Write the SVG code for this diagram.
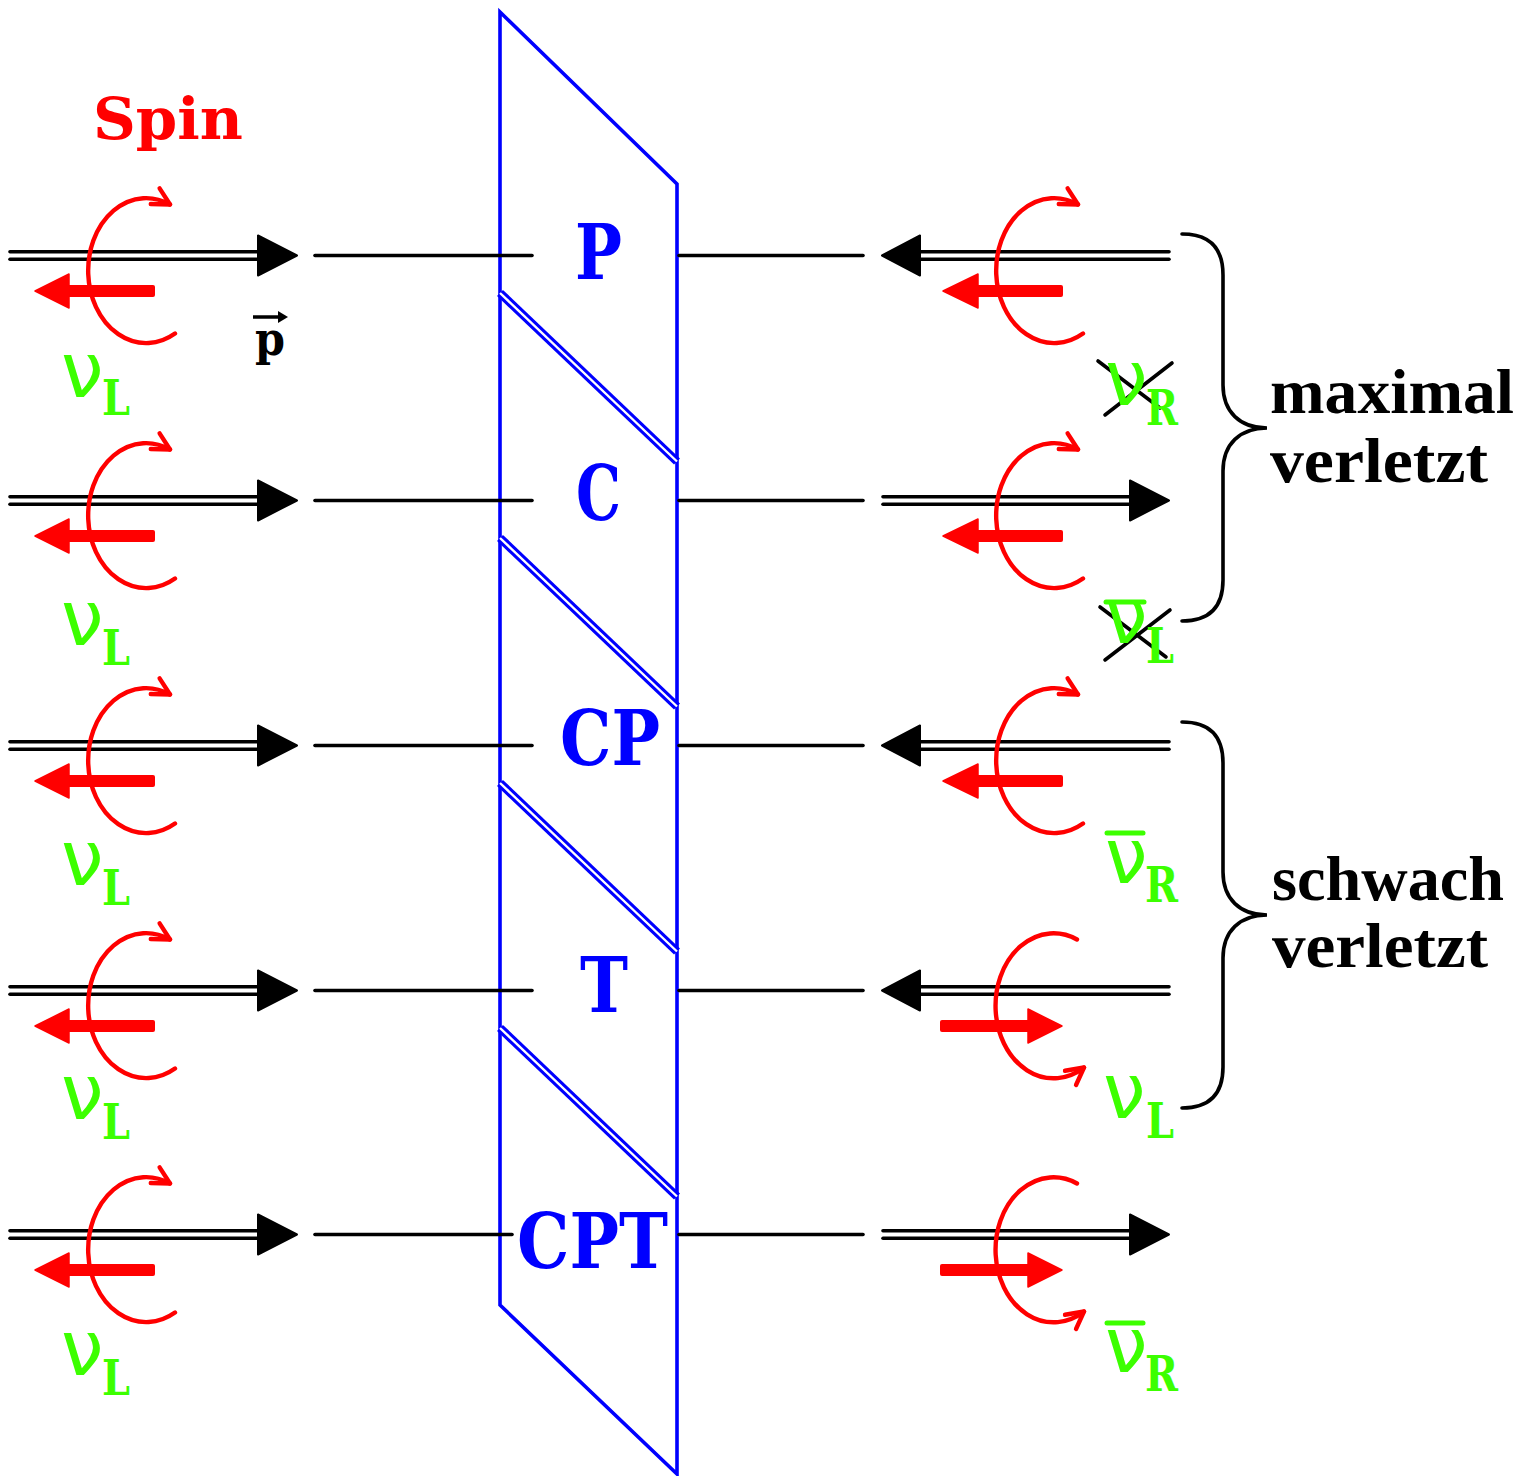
<svg xmlns="http://www.w3.org/2000/svg" width="1526" height="1476" viewBox="0 0 1526 1476">
<style>
.blk{stroke:#000;stroke-width:3.6;fill:none;stroke-linecap:round}
.head{fill:#000;stroke:#000;stroke-width:2;stroke-linejoin:round}
.arc{stroke:#f00;stroke-width:4.4;fill:none;stroke-linecap:round}
.rhead{fill:#f00;stroke:#f00;stroke-width:1.5;stroke-linejoin:round}
.edge{stroke:#00f;stroke-width:3.6;fill:none}
.dbl{stroke:#00f;stroke-width:8.6}
.gap{stroke:#fff;stroke-width:2.4}
.lbl{font-family:"DejaVu Serif","Liberation Serif",serif;font-weight:bold}
.nu{font-family:"DejaVu Sans","Liberation Sans",sans-serif;font-size:76px;fill:#3cff00}
.sub{font-family:"DejaVu Serif","Liberation Serif",serif;font-weight:bold;font-size:48px;fill:#3cff00}
.bar{stroke:#3cff00;stroke-width:5;stroke-linecap:round}
.cross{stroke:#000;stroke-width:3.6;stroke-linecap:round}
.big{font-family:"DejaVu Serif","Liberation Serif",serif;font-weight:bold;font-size:77px;fill:#00f}
.side{font-family:"Liberation Serif","DejaVu Serif",serif;font-weight:bold;font-size:64px;fill:#000}
</style>
<defs>
<marker id="chev" markerUnits="userSpaceOnUse" viewBox="-20 -12 24 24" markerWidth="24" markerHeight="24" refX="0" refY="0" orient="auto" overflow="visible">
<path d="M -17 -9 L 0 0 L -17 9" fill="none" stroke="#f00" stroke-width="4.4" stroke-linecap="round" stroke-linejoin="round"/>
</marker>
</defs>
<rect width="1526" height="1476" fill="#fff"/>

<g id="mirror">
<polygon class="edge" points="500,12 677,184 677,1474 500,1305"/>
<line class="dbl" x1="500" y1="293" x2="677" y2="461.5"/>
<line class="gap" x1="500" y1="293" x2="677" y2="461.5"/>
<line class="dbl" x1="500" y1="538" x2="677" y2="706.5"/>
<line class="gap" x1="500" y1="538" x2="677" y2="706.5"/>
<line class="dbl" x1="500" y1="783" x2="677" y2="951.5"/>
<line class="gap" x1="500" y1="783" x2="677" y2="951.5"/>
<line class="dbl" x1="500" y1="1028" x2="677" y2="1196.5"/>
<line class="gap" x1="500" y1="1028" x2="677" y2="1196.5"/>
</g>

<g id="connectors">
<line class="blk" x1="315" y1="255.5" x2="532" y2="255.5"/>
<line class="blk" x1="679" y1="255.5" x2="863" y2="255.5"/>
<line class="blk" x1="315" y1="500.5" x2="532" y2="500.5"/>
<line class="blk" x1="679" y1="500.5" x2="863" y2="500.5"/>
<line class="blk" x1="315" y1="745.5" x2="532" y2="745.5"/>
<line class="blk" x1="679" y1="745.5" x2="863" y2="745.5"/>
<line class="blk" x1="315" y1="990.5" x2="532" y2="990.5"/>
<line class="blk" x1="679" y1="990.5" x2="863" y2="990.5"/>
<line class="blk" x1="315" y1="1234.5" x2="512" y2="1234.5"/>
<line class="blk" x1="679" y1="1234.5" x2="863" y2="1234.5"/>
<path class="blk" d="M 1182 234 C 1210 234 1223 248 1223 275 L 1223 385 C 1223 412 1240 428 1267 428 C 1240 428 1223 444 1223 471 L 1223 580 C 1223 607 1210 621 1182 621"/>
<path class="blk" d="M 1182 722 C 1210 722 1223 736 1223 763 L 1223 872 C 1223 899 1240 915 1267 915 C 1240 915 1223 931 1223 958 L 1223 1067 C 1223 1094 1210 1108 1182 1108"/>
</g>

<g id="spin-title"><text class="lbl" x="93" y="139" font-size="58" fill="#f00" textLength="150" lengthAdjust="spacingAndGlyphs">Spin</text></g>

<g id="momentum">
<text class="lbl" x="255" y="355" font-size="46" fill="#000" textLength="30" lengthAdjust="spacingAndGlyphs">p</text>
<line x1="253" y1="317" x2="280" y2="317" stroke="#000" stroke-width="3.5"/>
<polygon points="288,317 278,311 278,323" fill="#000"/>
</g>

<!-- Left units -->
<g id="left-1" transform="translate(0,255.5)">
<line class="blk" x1="10" y1="-3.8" x2="262" y2="-3.8"/><line class="blk" x1="10" y1="3.8" x2="262" y2="3.8"/>
<polygon class="head" points="297,0 258,-20 258,20"/>
<path class="arc" d="M 175 78 A 58 72.5 0 1 1 170 -51" marker-end="url(#chev)"/>
<rect x="66" y="29.5" width="89" height="12" rx="2" fill="#f00"/><polygon class="rhead" points="35,35.5 69,18.5 69,52.5"/>
</g>
<g id="left-2" transform="translate(0,500.5)">
<line class="blk" x1="10" y1="-3.8" x2="262" y2="-3.8"/><line class="blk" x1="10" y1="3.8" x2="262" y2="3.8"/>
<polygon class="head" points="297,0 258,-20 258,20"/>
<path class="arc" d="M 175 78 A 58 72.5 0 1 1 170 -51" marker-end="url(#chev)"/>
<rect x="66" y="29.5" width="89" height="12" rx="2" fill="#f00"/><polygon class="rhead" points="35,35.5 69,18.5 69,52.5"/>
</g>
<g id="left-3" transform="translate(0,745.5)">
<line class="blk" x1="10" y1="-3.8" x2="262" y2="-3.8"/><line class="blk" x1="10" y1="3.8" x2="262" y2="3.8"/>
<polygon class="head" points="297,0 258,-20 258,20"/>
<path class="arc" d="M 175 78 A 58 72.5 0 1 1 170 -51" marker-end="url(#chev)"/>
<rect x="66" y="29.5" width="89" height="12" rx="2" fill="#f00"/><polygon class="rhead" points="35,35.5 69,18.5 69,52.5"/>
</g>
<g id="left-4" transform="translate(0,990.5)">
<line class="blk" x1="10" y1="-3.8" x2="262" y2="-3.8"/><line class="blk" x1="10" y1="3.8" x2="262" y2="3.8"/>
<polygon class="head" points="297,0 258,-20 258,20"/>
<path class="arc" d="M 175 78 A 58 72.5 0 1 1 170 -51" marker-end="url(#chev)"/>
<rect x="66" y="29.5" width="89" height="12" rx="2" fill="#f00"/><polygon class="rhead" points="35,35.5 69,18.5 69,52.5"/>
</g>
<g id="left-5" transform="translate(0,1234.5)">
<line class="blk" x1="10" y1="-3.8" x2="262" y2="-3.8"/><line class="blk" x1="10" y1="3.8" x2="262" y2="3.8"/>
<polygon class="head" points="297,0 258,-20 258,20"/>
<path class="arc" d="M 175 78 A 58 72.5 0 1 1 170 -51" marker-end="url(#chev)"/>
<rect x="66" y="29.5" width="89" height="12" rx="2" fill="#f00"/><polygon class="rhead" points="35,35.5 69,18.5 69,52.5"/>
</g>

<!-- Left labels -->
<g id="left-labels">
<text class="nu" x="61" y="397">ν</text><text class="sub" x="102" y="415" textLength="28" lengthAdjust="spacingAndGlyphs">L</text>
<text class="nu" x="61" y="645">ν</text><text class="sub" x="102" y="665" textLength="28" lengthAdjust="spacingAndGlyphs">L</text>
<text class="nu" x="61" y="885">ν</text><text class="sub" x="102" y="905" textLength="28" lengthAdjust="spacingAndGlyphs">L</text>
<text class="nu" x="61" y="1119">ν</text><text class="sub" x="102" y="1139" textLength="28" lengthAdjust="spacingAndGlyphs">L</text>
<text class="nu" x="61" y="1375">ν</text><text class="sub" x="102" y="1395" textLength="28" lengthAdjust="spacingAndGlyphs">L</text>
</g>

<!-- Mirror labels -->
<g id="op-P"><text class="big" x="575" y="279" textLength="47" lengthAdjust="spacingAndGlyphs">P</text></g>
<g id="op-C"><text class="big" x="576" y="520" textLength="45" lengthAdjust="spacingAndGlyphs">C</text></g>
<g id="op-CP"><text class="big" x="560" y="765" textLength="100" lengthAdjust="spacingAndGlyphs">CP</text></g>
<g id="op-T"><text class="big" x="580" y="1012" textLength="48" lengthAdjust="spacingAndGlyphs">T</text></g>
<g id="op-CPT"><text class="big" x="517" y="1268" textLength="151" lengthAdjust="spacingAndGlyphs">CPT</text></g>

<!-- Right units -->
<g id="right-1" transform="translate(0,255.5)">
<line class="blk" x1="918" y1="-3.8" x2="1169" y2="-3.8"/><line class="blk" x1="918" y1="3.8" x2="1169" y2="3.8"/>
<polygon class="head" points="882,0 920,-20 920,20"/>
<path class="arc" d="M 1083 78 A 58 72.5 0 1 1 1078 -51" marker-end="url(#chev)"/>
<rect x="974" y="29.5" width="89" height="12" rx="2" fill="#f00"/><polygon class="rhead" points="943,35.5 978,18.5 978,52.5"/>
</g>
<g id="right-2" transform="translate(0,500.5)">
<line class="blk" x1="883" y1="-3.8" x2="1132" y2="-3.8"/><line class="blk" x1="883" y1="3.8" x2="1132" y2="3.8"/>
<polygon class="head" points="1169,0 1130,-20 1130,20"/>
<path class="arc" d="M 1083 78 A 58 72.5 0 1 1 1078 -51" marker-end="url(#chev)"/>
<rect x="974" y="29.5" width="89" height="12" rx="2" fill="#f00"/><polygon class="rhead" points="943,35.5 978,18.5 978,52.5"/>
</g>
<g id="right-3" transform="translate(0,745.5)">
<line class="blk" x1="918" y1="-3.8" x2="1169" y2="-3.8"/><line class="blk" x1="918" y1="3.8" x2="1169" y2="3.8"/>
<polygon class="head" points="882,0 920,-20 920,20"/>
<path class="arc" d="M 1083 78 A 58 72.5 0 1 1 1078 -51" marker-end="url(#chev)"/>
<rect x="974" y="29.5" width="89" height="12" rx="2" fill="#f00"/><polygon class="rhead" points="943,35.5 978,18.5 978,52.5"/>
</g>
<g id="right-4" transform="translate(0,990.5)">
<line class="blk" x1="918" y1="-3.8" x2="1169" y2="-3.8"/><line class="blk" x1="918" y1="3.8" x2="1169" y2="3.8"/>
<polygon class="head" points="882,0 920,-20 920,20"/>
<path class="arc" d="M 1077 -51 A 58 72.5 0 1 0 1084 77" marker-end="url(#chev)"/>
<rect x="940" y="29.5" width="90" height="12" rx="2" fill="#f00"/><polygon class="rhead" points="1062,35.5 1028,18.5 1028,52.5"/>
</g>
<g id="right-5" transform="translate(0,1234.5)">
<line class="blk" x1="883" y1="-3.8" x2="1132" y2="-3.8"/><line class="blk" x1="883" y1="3.8" x2="1132" y2="3.8"/>
<polygon class="head" points="1169,0 1130,-20 1130,20"/>
<path class="arc" d="M 1077 -51 A 58 72.5 0 1 0 1084 77" marker-end="url(#chev)"/>
<rect x="940" y="29.5" width="90" height="12" rx="2" fill="#f00"/><polygon class="rhead" points="1062,35.5 1028,18.5 1028,52.5"/>
</g>

<!-- Right labels -->
<g id="label-nuR-crossed">
<line class="cross" x1="1098" y1="361" x2="1160" y2="408"/>
<line class="cross" x1="1172" y1="363" x2="1105" y2="415"/>
<text class="nu" x="1105" y="405">ν</text><text class="sub" x="1146" y="425" textLength="32" lengthAdjust="spacingAndGlyphs">R</text>
</g>
<g id="label-nubarL-crossed">
<line class="cross" x1="1100" y1="607" x2="1166" y2="657"/>
<line class="cross" x1="1170" y1="610" x2="1105" y2="660"/>
<line class="bar" x1="1106" y1="602" x2="1144" y2="602"/>
<text class="nu" x="1105" y="643">ν</text><text class="sub" x="1146" y="663" textLength="28" lengthAdjust="spacingAndGlyphs">L</text>
</g>
<g id="label-nubarR-3">
<line class="bar" x1="1107" y1="833" x2="1143" y2="833"/>
<text class="nu" x="1105" y="883">ν</text><text class="sub" x="1145" y="902" textLength="33" lengthAdjust="spacingAndGlyphs">R</text>
</g>
<g id="label-nuL-4">
<text class="nu" x="1103" y="1118">ν</text><text class="sub" x="1146" y="1138" textLength="28" lengthAdjust="spacingAndGlyphs">L</text>
</g>
<g id="label-nubarR-5">
<line class="bar" x1="1107" y1="1323" x2="1143" y2="1323"/>
<text class="nu" x="1105" y="1372">ν</text><text class="sub" x="1145" y="1391" textLength="33" lengthAdjust="spacingAndGlyphs">R</text>
</g>

<g id="brace-label-1">
<text class="side" x="1270" y="413" textLength="244" lengthAdjust="spacingAndGlyphs">maximal</text>
<text class="side" x="1270" y="482" textLength="218" lengthAdjust="spacingAndGlyphs">verletzt</text>
</g>
<g id="brace-label-2">
<text class="side" x="1272" y="900" textLength="232" lengthAdjust="spacingAndGlyphs">schwach</text>
<text class="side" x="1272" y="967" textLength="216" lengthAdjust="spacingAndGlyphs">verletzt</text>
</g>
</svg>
